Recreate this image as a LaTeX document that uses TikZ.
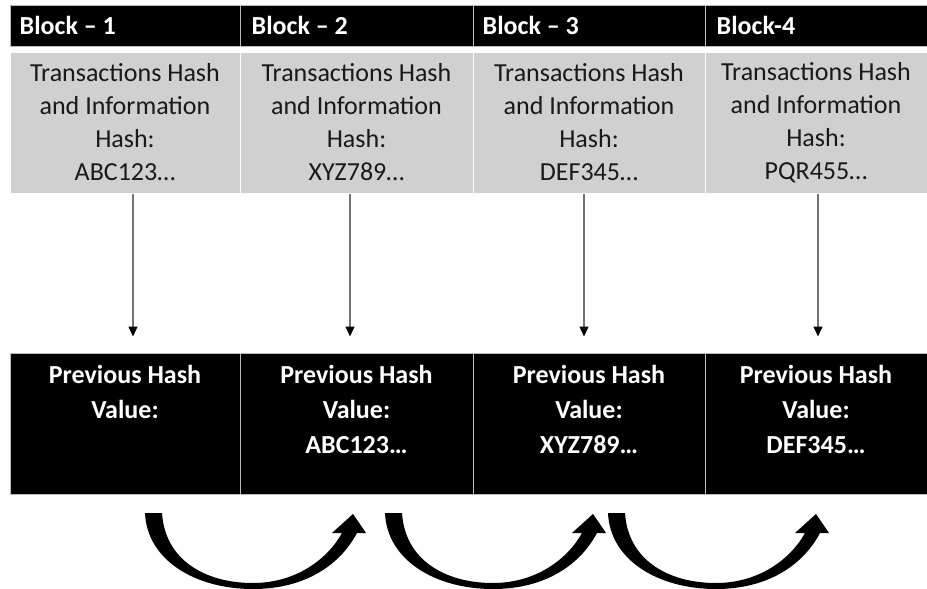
\documentclass[tikz,border=0pt]{standalone}
\usepackage{fontspec}
\setmainfont{Carlito}
\usetikzlibrary{positioning,arrows.meta}

\definecolor{cellgray}{RGB}{208,208,208}
\definecolor{sepgray}{RGB}{185,185,185}

\begin{document}
\begin{tikzpicture}[x=1pt,y=-1pt,
  headcell/.style={fill=black, draw=sepgray, line width=1pt, minimum height=41pt},
  headtxt/.style={text=white, inner sep=0pt, font=\bfseries\fontsize{26}{32}\selectfont},
  infocell/.style={fill=cellgray, draw=white, line width=1pt, minimum height=141pt,
    align=center, text=black!90, font=\fontsize{26}{33}\selectfont},
  prevcell/.style={fill=black, draw=sepgray, line width=1pt, minimum height=141pt},
  prevtxt/.style={text=white, inner sep=0pt, align=center, font=\bfseries\fontsize{26}{35}\selectfont},
  hashline/.style={draw=black!55, line width=1.2pt, -{Triangle[width=9pt,length=10pt,color=black]}, shorten >=16pt},
  chainarrow/.style={fill=black, draw=none}
]

  \useasboundingbox (0,0) rectangle (927,589);

  \node[headcell, minimum width=230pt] (h1) at (125,25.5) {};
  \node[headcell, minimum width=233pt] (h2) at (356.5,25.5) {};
  \node[headcell, minimum width=232pt] (h3) at (589,25.5) {};
  \node[headcell, minimum width=222pt] (h4) at (816,25.5) {};

  \node[headtxt, right=10pt of h1.west] (h1txt) {Block – 1};
  \node[headtxt, right=12pt of h2.west] (h2txt) {Block – 2};
  \node[headtxt, right=10pt of h3.west] (h3txt) {Block – 3};
  \node[headtxt, right=12pt of h4.west] (h4txt) {Block-4};

  \node[infocell, minimum width=230pt] (t1) at (125,122.5) {Transactions Hash\\and Information\\Hash:\\ABC123…};
  \node[infocell, minimum width=233pt] (t2) at (356.5,122.5) {Transactions Hash\\and Information\\Hash:\\XYZ789…};
  \node[infocell, minimum width=232pt] (t3) at (589,122.5) {Transactions Hash\\and Information\\Hash:\\DEF345…};
  \node[infocell, minimum width=222pt] (t4) at (816,122.5) {Transactions Hash\\and Information\\Hash:\\PQR455…};

  \node[prevcell, minimum width=230pt] (p1) at (125,423.5) {};
  \node[prevcell, minimum width=233pt] (p2) at (356.5,423.5) {};
  \node[prevcell, minimum width=232pt] (p3) at (589,423.5) {};
  \node[prevcell, minimum width=222pt] (p4) at (816,423.5) {};

  \node[prevtxt, below=13pt of p1.north] (p1txt) {Previous Hash\\Value:};
  \node[prevtxt, below=13pt of p2.north] (p2txt) {Previous Hash\\Value:\\ABC123…};
  \node[prevtxt, below=13pt of p3.north] (p3txt) {Previous Hash\\Value:\\XYZ789…};
  \node[prevtxt, below=13pt of p4.north] (p4txt) {Previous Hash\\Value:\\DEF345…};

  \coordinate (a1) at (133,0);
  \coordinate (a2) at (350,0);
  \coordinate (a3) at (584,0);
  \coordinate (a4) at (818,0);

  \draw[hashline] (t1.south -| a1) -- (p1.north -| a1);
  \draw[hashline] (t2.south -| a2) -- (p2.north -| a2);
  \draw[hashline] (t3.south -| a3) -- (p3.north -| a3);
  \draw[hashline] (t4.south -| a4) -- (p4.north -| a4);

  \foreach \o in {145,385,608} {
    \begin{scope}[shift={(\o,0)}]
      \fill[chainarrow] (0,513) .. controls (2,560) and (50,589) .. (108,589)
        .. controls (160,589) and (195,565) .. (212,533)
        -- (221,533) -- (208,514) -- (187,533) -- (197,533)
        .. controls (182,560) and (150,583) .. (108,583)
        .. controls (60,583) and (20,560) .. (17,513) -- cycle;
    \end{scope}
  }

\end{tikzpicture}
\end{document}
